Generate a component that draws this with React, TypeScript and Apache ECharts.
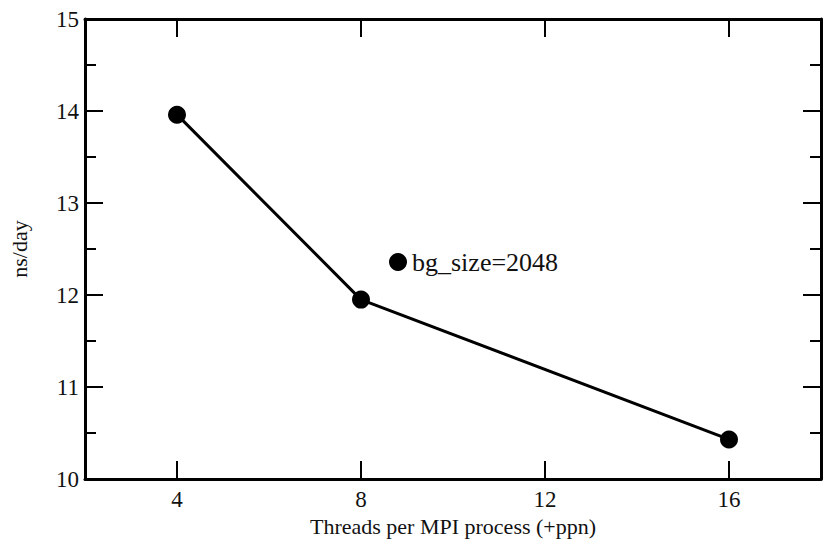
import React, { useEffect, useRef } from "react";
import * as echarts from "echarts";

const threads = [4, 8, 16];
const nsPerDay = [13.96, 11.95, 10.43];
const seriesName = "bg_size=2048";
const xTicks = [4, 8, 12, 16];
const xTitle = "Threads per MPI process (+ppn)";
const yTitle = "ns/day";

const FONT = "Liberation Serif";

export default function App() {
  const ref = useRef<HTMLDivElement>(null);
  useEffect(() => {
    if (!ref.current) return;
    const chart = echarts.init(ref.current, null, { renderer: "svg" });
    const axisLine = { show: true, lineStyle: { color: "#000", width: 3 } };
    const majorTick = { show: true, inside: true, length: 18, lineStyle: { color: "#000", width: 2 } };
    const minorTick = { show: true, splitNumber: 2, length: 11, lineStyle: { color: "#000", width: 2 } };
    chart.setOption({
      animation: false,
      backgroundColor: "#fff",
      grid: { left: 84, right: 6, top: 19, bottom: 69, containLabel: false },
      legend: {
        show: true,
        left: 384,
        top: 244,
        icon: "circle",
        itemWidth: 18,
        itemHeight: 18,
        textStyle: { fontFamily: FONT, fontSize: 26, color: "#111" },
        data: [seriesName],
      },
      xAxis: [
        {
          type: "value",
          min: 2,
          max: 18,
          position: "bottom",
          name: xTitle,
          nameLocation: "middle",
          nameGap: 36,
          nameTextStyle: { fontFamily: FONT, fontSize: 22, color: "#111" },
          axisLine,
          axisTick: { ...majorTick, customValues: xTicks },
          axisLabel: { customValues: xTicks, fontFamily: FONT, fontSize: 23, color: "#111", margin: 9 },
          splitLine: { show: false },
        },
        {
          type: "value",
          min: 2,
          max: 18,
          position: "top",
          axisLine,
          axisTick: { ...majorTick, customValues: xTicks },
          axisLabel: { show: false, customValues: xTicks },
          splitLine: { show: false },
        },
      ],
      yAxis: [
        {
          type: "value",
          min: 10,
          max: 15,
          interval: 1,
          position: "left",
          name: yTitle,
          nameLocation: "middle",
          nameGap: 55,
          nameRotate: 90,
          nameTextStyle: { fontFamily: FONT, fontSize: 22, color: "#111" },
          axisLine,
          axisTick: majorTick,
          minorTick,
          axisLabel: { fontFamily: FONT, fontSize: 23, color: "#111", margin: 6 },
          splitLine: { show: false },
          minorSplitLine: { show: false },
        },
        {
          type: "value",
          min: 10,
          max: 15,
          interval: 1,
          position: "right",
          axisLine,
          axisTick: majorTick,
          minorTick,
          axisLabel: { show: false },
          splitLine: { show: false },
          minorSplitLine: { show: false },
        },
      ],
      series: [
        {
          name: seriesName,
          type: "line",
          xAxisIndex: 0,
          yAxisIndex: 0,
          data: threads.map((t, i) => [t, nsPerDay[i]]),
          symbol: "circle",
          symbolSize: 18,
          itemStyle: { color: "#000" },
          lineStyle: { color: "#000", width: 3 },
        },
      ],
    });
    return () => chart.dispose();
  }, []);
  return <div ref={ref} style={{ width: 827, height: 548, position: "absolute", left: 0, top: 0 }} />;
}
